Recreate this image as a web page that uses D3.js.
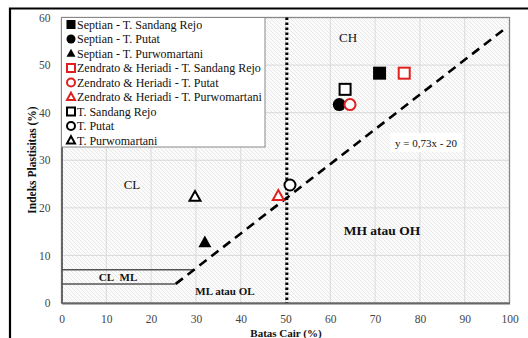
<!DOCTYPE html>
<html><head><meta charset="utf-8">
<script src="https://cdn.jsdelivr.net/npm/d3@7"></script>
<style>body{margin:0;background:#fff}svg{display:block}</style>
</head><body>
<svg id="c" width="528" height="338"></svg>
<script>
const xTicks=[0,10,20,30,40,50,60,70,80,90,100];
const yTicks=[0,10,20,30,40,50,60];
const seriesNames=["Septian - T. Sandang Rejo","Septian - T. Putat","Septian - T. Purwomartani","Zendrato & Heriadi - T. Sandang Rejo","Zendrato & Heriadi - T. Putat","Zendrato & Heriadi - T. Purwomartani","T. Sandang Rejo","T. Putat","T. Purwomartani"];
const seriesShape=["square","circle","triangle","square","circle","triangle","square","circle","triangle"];
const seriesStyle=["filled","filled","filled","red","red","red","open","open","open"];
const liquidLimit=[71,62,32,76.5,64.4,48.4,63.3,51,29.8];
const plasticityIndex=[48.3,41.7,12.7,48.3,41.7,22.5,44.9,24.8,22.3];
const aLineX=[25.5,99];
const clmlLow=[[0,4],[25.5,4]];
const clmlHigh=[[0,7],[29.6,7]];

const svg=d3.select("#c");
const x=d3.scaleLinear().domain([0,100]).range([61.5,509.5]);
const y=d3.scaleLinear().domain([0,60]).range([303,17.5]);
const serif="'Liberation Serif','Times New Roman',serif";

svg.append("path").attr("d","M10,340 L10,8.5 L530,8.5").attr("fill","none").attr("stroke","#000").attr("stroke-width",2.2);

const defs=svg.append("defs");
const pat=defs.append("pattern").attr("id","hatch").attr("patternUnits","userSpaceOnUse").attr("width",4).attr("height",4);
pat.append("rect").attr("width",4).attr("height",4).attr("fill","#fbfbfb");
pat.append("path").attr("d","M-1,-1 L5,5 M-1,3 L1,5 M3,-1 L5,1").attr("stroke","#e0e0e0").attr("stroke-width",0.7);

svg.append("rect").attr("x",x(0)).attr("y",y(60)).attr("width",x(100)-x(0)).attr("height",y(0)-y(60)).attr("fill","url(#hatch)");

svg.append("g").selectAll("line").data(xTicks.slice(1,-1)).join("line")
 .attr("x1",d=>x(d)).attr("x2",d=>x(d)).attr("y1",y(0)).attr("y2",y(60)).attr("stroke","#dadada").attr("stroke-width",1);
svg.append("g").selectAll("line").data(yTicks.slice(1,-1)).join("line")
 .attr("y1",d=>y(d)).attr("y2",d=>y(d)).attr("x1",x(0)).attr("x2",x(100)).attr("stroke","#dadada").attr("stroke-width",1);

svg.append("rect").attr("x",x(0)).attr("y",y(60)).attr("width",x(100)-x(0)).attr("height",y(0)-y(60)).attr("fill","none").attr("stroke","#888").attr("stroke-width",1.3);

const xa=svg.append("g").attr("transform",`translate(0,${y(0)})`).call(d3.axisBottom(x).tickValues(xTicks).tickSize(0).tickPadding(12));
const ya=svg.append("g").attr("transform",`translate(${x(0)},0)`).call(d3.axisLeft(y).tickValues(yTicks).tickSize(0).tickPadding(11));
[xa,ya].forEach(a=>{a.select(".domain").attr("stroke","#666").attr("stroke-width",2);a.selectAll("text").attr("font-family",serif).attr("font-size",11.5).attr("fill","#444");});

const line=d3.line().x(d=>x(d[0])).y(d=>y(d[1]));
[clmlLow,clmlHigh].forEach(p=>svg.append("path").attr("d",line(p)).attr("fill","none").attr("stroke","#555").attr("stroke-width",1.6));

svg.append("path").attr("d",line(aLineX.map(v=>[v,0.73*(v-20)]))).attr("fill","none").attr("stroke","#000").attr("stroke-width",2.6).attr("stroke-dasharray","9,6");

svg.append("line").attr("x1",x(50.3)).attr("x2",x(50.3)).attr("y1",y(60)).attr("y2",y(0)).attr("stroke","#000").attr("stroke-width",3).attr("stroke-dasharray","2.6,2.4");

function lab(t,xx,yy,size,bold){svg.append("text").attr("x",xx).attr("y",yy).attr("text-anchor","middle").attr("dominant-baseline","central").attr("font-family",serif).attr("font-size",size).attr("font-weight",bold?"bold":"normal").attr("fill","#111").style("white-space","pre").text(t);}
lab("CH",348,37,13,false);
lab("CL",132,184,13,false);
lab("MH atau OH",382,230,13.5,true);
lab("ML atau OL",225,291,11,true);
lab("CL\u00a0\u00a0ML",118,277,11,true);

svg.append("rect").attr("x",390).attr("y",133).attr("width",72).attr("height",19).attr("fill","#fff");
lab("y = 0,73x - 20",426,142.5,11,false);

function drawMarker(g,shape,style,cx,cy,s){
  const fill=style==="filled"?"#000":"#fff";
  const stroke=style==="red"?"#e0201e":"#000";
  const sw=style==="filled"?0:2;
  let el;
  if(shape==="square") el=g.append("rect").attr("x",cx-s/2).attr("y",cy-s/2).attr("width",s).attr("height",s);
  else if(shape==="circle") el=g.append("circle").attr("cx",cx).attr("cy",cy).attr("r",s/2);
  else { const h=s*0.9; el=g.append("path").attr("d",`M${cx},${cy-h*0.6} L${cx+s/2},${cy+h*0.4} L${cx-s/2},${cy+h*0.4} Z`); }
  el.attr("fill",fill).attr("stroke",stroke).attr("stroke-width",sw).attr("stroke-linejoin","miter");
}
const pts=svg.append("g");
seriesNames.forEach((n,i)=>{
  const sz=seriesStyle[i]==="filled"?13:11;
  drawMarker(pts,seriesShape[i],seriesStyle[i],x(liquidLimit[i]),y(plasticityIndex[i]),sz);
});

const lg=svg.append("g");
lg.append("rect").attr("x",x(0)).attr("y",y(60)).attr("width",203.5).attr("height",129.5).attr("fill","#fff").attr("stroke","#888").attr("stroke-width",1);
seriesNames.forEach((n,i)=>{
  const yy=24.5+i*14.5;
  drawMarker(lg,seriesShape[i],seriesStyle[i],71,yy,seriesStyle[i]==="filled"?9:8);
  lg.append("text").attr("x",77).attr("y",yy).attr("dominant-baseline","central").attr("font-family",serif).attr("font-size",12).attr("fill","#111").text(n);
});

svg.append("text").attr("x",286).attr("y",333).attr("text-anchor","middle").attr("dominant-baseline","central").attr("font-family",serif).attr("font-size",11).attr("font-weight","bold").attr("fill","#111").text("Batas Cair (%)");
svg.append("text").attr("transform","translate(32,160) rotate(-90)").attr("text-anchor","middle").attr("dominant-baseline","central").attr("font-family",serif).attr("font-size",11.5).attr("font-weight","bold").attr("fill","#111").text("Indeks Plastisitas (%)");
</script>
</body></html>
